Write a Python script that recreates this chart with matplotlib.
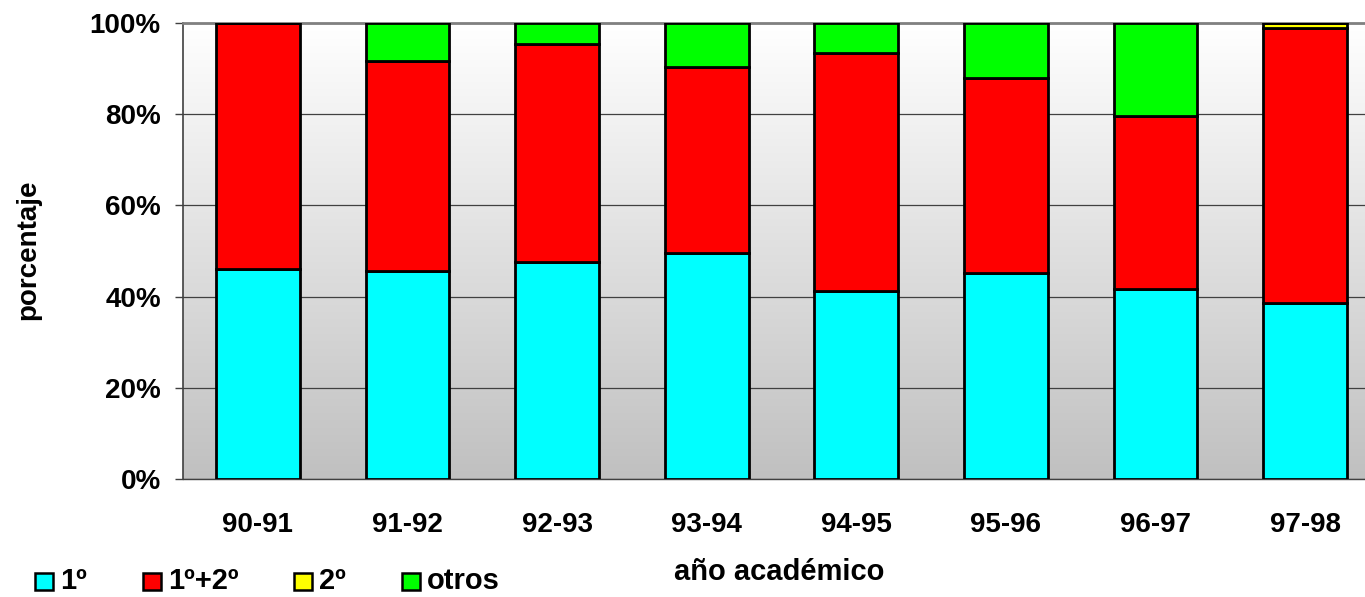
import numpy as np
import matplotlib
matplotlib.use("Agg")
import matplotlib.pyplot as plt
from matplotlib.colors import LinearSegmentedColormap
from matplotlib.patches import Rectangle

# ---- data ----
categories = ["90-91", "91-92", "92-93", "93-94", "94-95", "95-96", "96-97", "97-98"]
series_names = ["1º", "1º+2º", "2º", "otros"]
s_1 = [46.1, 45.7, 47.5, 49.5, 41.2, 45.2, 41.6, 38.6]
s_1_2 = [53.9, 45.9, 48.0, 40.9, 52.2, 42.7, 37.9, 60.2]
s_2 = [0.0, 0.0, 0.0, 0.0, 0.0, 0.0, 0.0, 1.2]
s_otros = [0.0, 8.4, 4.5, 9.6, 6.6, 12.1, 20.5, 0.0]
yticks = [0, 20, 40, 60, 80, 100]
ytick_labels = ["0%", "20%", "40%", "60%", "80%", "100%"]

colors = ["#00FFFF", "#FF0000", "#FFFF00", "#00FF00"]
plt.rcParams["font.family"] = ["Liberation Sans", "DejaVu Sans"]
plt.rcParams["font.weight"] = "bold"
FS = 20

W, H = 1365, 597
fig = plt.figure(figsize=(W / 100, H / 100), dpi=100)
fig.patch.set_facecolor("white")
ax = fig.add_axes([183 / W, 1 - 479 / H, (1380 - 183) / W, (479 - 23) / H])

# gradient background
cmap = LinearSegmentedColormap.from_list("g", ["#c0c0c0", "#ffffff"])
grad = np.linspace(0, 1, 256)[:, None]
ax.imshow(grad, extent=[-0.5, 7.5, 0, 100], aspect="auto", cmap=cmap,
          origin="lower", zorder=0)

x = np.arange(len(categories))
bottom = np.zeros(len(categories))
for vals, col in zip([s_1, s_1_2, s_2, s_otros], colors):
    vals = np.array(vals)
    ax.bar(x, vals, width=0.56, bottom=bottom, color=col, edgecolor="black",
           linewidth=2, zorder=3)
    bottom += vals

ax.set_xlim(-0.5, 7.5)
ax.set_ylim(0, 100)
ax.set_yticks(yticks)
ax.set_yticklabels(ytick_labels, fontsize=FS, fontweight="bold")
ax.set_xticks(x)
ax.set_xticklabels(categories, fontsize=FS, fontweight="bold")
ax.tick_params(axis="x", length=0, pad=24)
ax.tick_params(axis="y", direction="out", length=6, width=1, color="#404040", pad=10)
ax.yaxis.grid(True, color="#404040", linewidth=0.9, zorder=1)
ax.set_axisbelow(True)
for g in ax.get_ygridlines():
    g.set_zorder(1)
ax.spines["top"].set_color("#808080")
ax.spines["top"].set_linewidth(2)
ax.spines["left"].set_color("#404040")
ax.spines["left"].set_linewidth(1.2)
ax.spines["bottom"].set_color("#404040")
ax.spines["bottom"].set_linewidth(1)
ax.spines["right"].set_visible(False)

# axis titles
fig.text(28 / W, 1 - 250 / H, "porcentaje", rotation=90, ha="center", va="center",
         fontsize=FS, fontweight="bold")
fig.text(779 / W, 1 - 572 / H, "año académico", ha="center", va="center",
         fontsize=21, fontweight="bold")

# legend (manual, Excel-like spacing)
sq_x = [35, 143, 294, 402]
for name, col, sx in zip(series_names, colors, sq_x):
    fig.patches.append(Rectangle((sx / W, 1 - 590 / H), 18 / W, 17 / H,
                                 transform=fig.transFigure, facecolor=col,
                                 edgecolor="black", linewidth=1.8))
    fig.text((sx + 25) / W, 1 - 581 / H, name, ha="left", va="center",
             fontsize=21, fontweight="bold")

fig.savefig("out.png", dpi=100)
